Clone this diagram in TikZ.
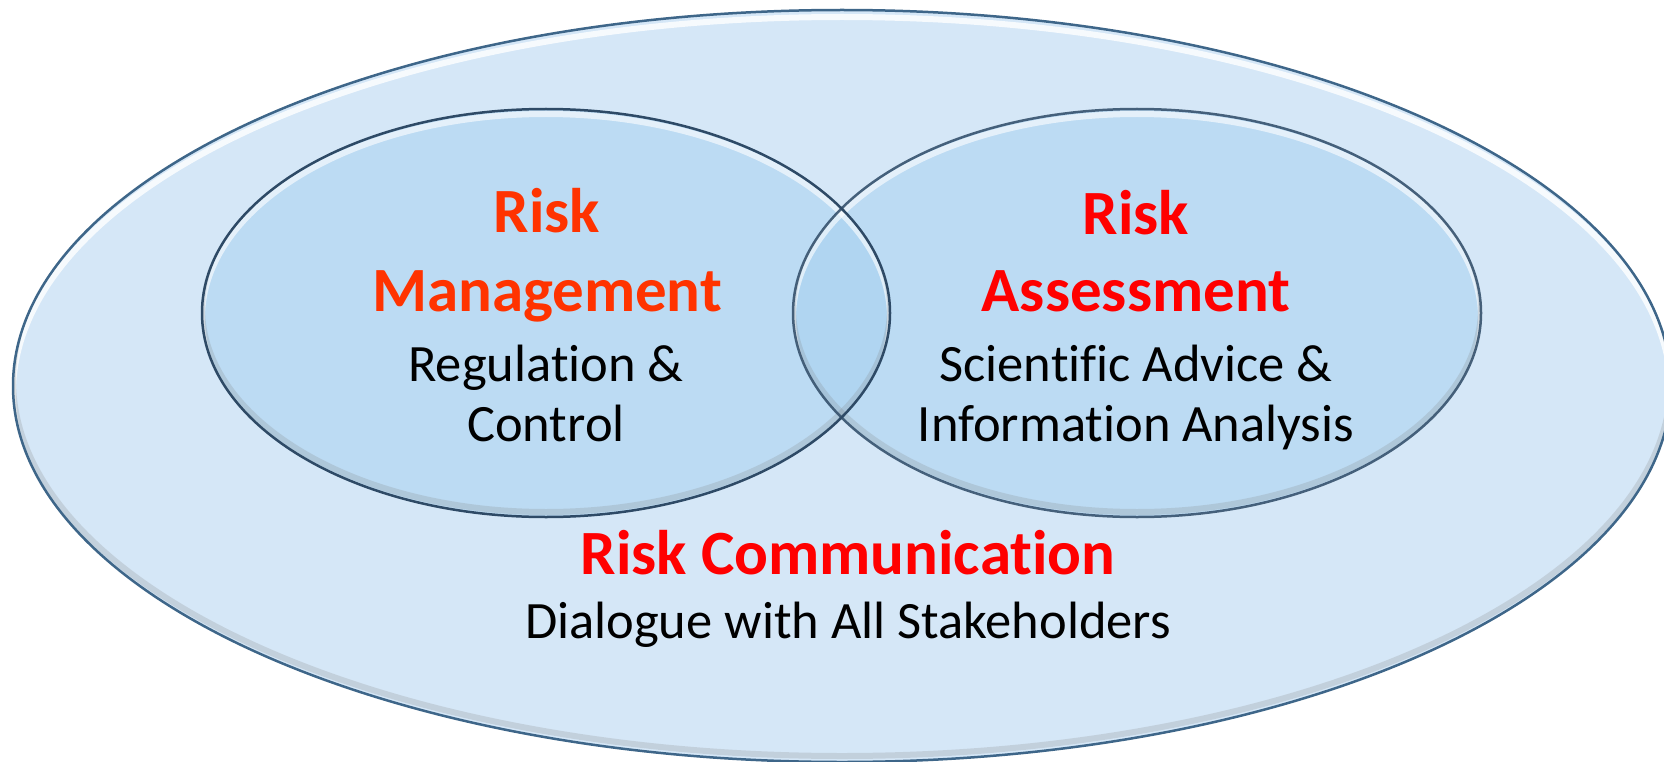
\documentclass[tikz,border=0pt]{standalone}
\usepackage{fontspec}
\setmainfont{Carlito}[Ligatures=CommonOff]
\usetikzlibrary{shapes.geometric}
\definecolor{outerfill}{HTML}{D5E7F7}
\definecolor{innerfill}{RGB}{165,209,241}
\definecolor{edgeblue}{HTML}{3E6689}
\definecolor{edgedark}{HTML}{2E4A66}
\definecolor{mgmt}{HTML}{FF3300}
\definecolor{assess}{HTML}{FF0000}
\begin{document}
\begin{tikzpicture}[x=1pt,y=-1pt,
  bigtitle/.style={font=\fontsize{63}{63}\selectfont\bfseries, anchor=base, inner sep=0},
  subtext/.style={font=\fontsize{52.5}{52.5}\selectfont, anchor=base, inner sep=0, text=black},
  outerell/.style={ellipse, fill=outerfill, minimum width=1658pt, minimum height=752pt, inner sep=0},
  innerell/.style={ellipse, fill=innerfill, fill opacity=0.5, minimum width=688pt, minimum height=408pt, inner sep=0},
  glow/.style={white, line width=6pt, opacity=0.8},
  shade/.style={black!50, line width=6pt, opacity=0.22}
]
\useasboundingbox (0,0) rectangle (1664,762);
\path[clip] (0,0) rectangle (1664,762);

% outer ellipse
\node[outerell] (comm) at (842,386) {};
\begin{scope}
  \clip (comm.center) ellipse [x radius=829pt, y radius=376pt];
  \draw[glow] (842,393) ellipse [x radius=829pt, y radius=376pt];
  \draw[shade] (842,380) ellipse [x radius=829pt, y radius=376pt];
\end{scope}
\draw[edgeblue, line width=2.5pt] (comm.center) ellipse [x radius=829pt, y radius=376pt];

% inner ellipses
\node[innerell] (mgmtell) at (546,313) {};
\node[innerell] (assell) at (1137,313) {};
\begin{scope}
  \clip (mgmtell.center) ellipse [x radius=344pt, y radius=204pt];
  \draw[glow, opacity=0.6] (546,318) ellipse [x radius=344pt, y radius=204pt];
  \draw[shade] (546,308) ellipse [x radius=344pt, y radius=204pt];
\end{scope}
\begin{scope}
  \clip (assell.center) ellipse [x radius=344pt, y radius=204pt];
  \draw[glow, opacity=0.6] (1137,318) ellipse [x radius=344pt, y radius=204pt];
  \draw[shade] (1137,308) ellipse [x radius=344pt, y radius=204pt];
\end{scope}
\draw[edgedark, line width=2.5pt] (mgmtell.center) ellipse [x radius=344pt, y radius=204pt];
\draw[edgedark, line width=2.5pt, draw opacity=0.85] (assell.center) ellipse [x radius=344pt, y radius=204pt];

% texts
\node[bigtitle, text=mgmt] (rm1) at (547,233) {Risk};
\node[bigtitle, text=mgmt] (rm2) at (547,311) {Management};
\node[subtext] (rm3) at (546,381) {Regulation \&};
\node[subtext] (rm4) at (546,441) {Control};

\node[bigtitle, text=assess] (ra1) at (1136,234) {Risk};
\node[bigtitle, text=assess] (ra2) at (1136,311) {Assessment};
\node[subtext] (ra3) at (1136,381) {Scientific Advice \&};
\node[subtext] (ra4) at (1136,441) {Information Analysis};

\node[bigtitle, text=assess] (rc1) at (848,574) {Risk Communication};
\node[subtext] (rc2) at (848,638) {Dialogue with All Stakeholders};
\end{tikzpicture}
\end{document}
